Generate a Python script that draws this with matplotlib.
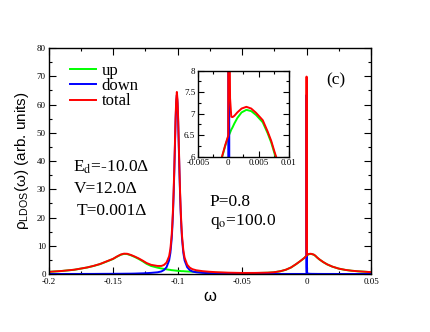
import matplotlib
matplotlib.use("Agg")
import matplotlib.pyplot as plt
from matplotlib.ticker import MultipleLocator, FixedLocator, FixedFormatter

plt.rcParams['mathtext.fontset'] = 'custom'
plt.rcParams['mathtext.rm'] = 'Liberation Sans'
plt.rcParams['mathtext.it'] = 'Liberation Sans:italic'

# values
omega = [-0.2, -0.19, -0.18, -0.175, -0.17, -0.165, -0.16, -0.155, -0.15, -0.147,
         -0.144, -0.1415, -0.139, -0.136, -0.133, -0.13, -0.127, -0.124, -0.1205, -0.118,
         -0.1155, -0.1125, -0.1105, -0.1085, -0.1065, -0.1055, -0.1045, -0.104, -0.1035, -0.103,
         -0.1025, -0.102, -0.1015, -0.101, -0.1005, -0.1, -0.0995, -0.099, -0.0985, -0.098,
         -0.0975, -0.097, -0.0965, -0.0955, -0.0945, -0.0925, -0.0905, -0.0885, -0.0855, -0.0805,
         -0.0755, -0.0705, -0.0605, -0.05, -0.04, -0.03, -0.025, -0.02, -0.016, -0.012,
         -0.008, -0.005, -0.003, -0.0015, -0.001, -0.0005, 0.0, 0.00005, 0.0001, 0.00015,
         0.0002, 0.0003, 0.0005, 0.0007, 0.001, 0.0015, 0.0022, 0.003, 0.0038, 0.0046,
         0.0057, 0.0065, 0.0071, 0.0077, 0.0085, 0.01, 0.013, 0.016, 0.02, 0.025,
         0.03, 0.035, 0.04, 0.05]
rho_up = [0.75, 1.05, 1.5, 1.9, 2.3, 2.85, 3.5, 4.4, 5.3, 6.1,
          6.8, 7.1, 7.05, 6.6, 6.0, 5.3, 4.5, 3.6, 2.85, 2.55,
          2.25, 1.95, 1.8, 1.65, 1.5, 1.45, 1.35, 1.35, 1.3, 1.3,
          1.25, 1.25, 1.2, 1.2, 1.15, 1.15, 1.1, 1.1, 1.1, 1.05,
          1.05, 1.0, 1.0, 1.0, 0.95, 0.9, 0.85, 0.82, 0.72, 0.6,
          0.52, 0.45, 0.35, 0.3, 0.33, 0.45, 0.6, 1.0, 1.5, 2.3,
          3.5, 4.5, 5.2, 5.75, 6.0, 6.25, 6.47, 6.48, 6.5, 6.51,
          6.53, 6.56, 6.63, 6.68, 6.77, 6.9, 7.03, 7.09, 7.06, 6.97,
          6.8, 6.55, 6.33, 6.05, 5.72, 5.15, 4.2, 3.4, 2.6, 1.9,
          1.45, 1.15, 0.95, 0.65]
rho_down = [0.01, 0.01, 0.02, 0.02, 0.03, 0.03, 0.05, 0.06, 0.07, 0.08,
            0.09, 0.1, 0.11, 0.12, 0.15, 0.2, 0.24, 0.3, 0.4, 0.5,
            0.6, 0.9, 1.4, 2.4, 4.8, 7.5, 12.5, 16.5, 21.5, 28.0,
            36.0, 45.0, 54.0, 60.5, 63.3, 60.5, 54.0, 45.0, 36.0, 28.0,
            21.5, 16.5, 12.5, 7.5, 4.8, 2.4, 1.4, 0.9, 0.6, 0.4,
            0.28, 0.2, 0.12, 0.07, 0.05, 0.03, 0.03, 0.02, 0.02, 0.02,
            0.02, 0.02, 0.02, 0.02, 0.02, 0.02, 0.02, 63.4, 30.0, 8.0,
            2.5, 0.8, 0.3, 0.24, 0.18, 0.13, 0.09, 0.07, 0.06, 0.05,
            0.05, 0.04, 0.04, 0.04, 0.03, 0.03, 0.02, 0.02, 0.02, 0.01,
            0.01, 0.01, 0.01, 0.01]
rho_total = [0.76, 1.06, 1.52, 1.92, 2.33, 2.88, 3.55, 4.46, 5.37, 6.18,
             6.89, 7.2, 7.16, 6.72, 6.15, 5.5, 4.74, 3.9, 3.25, 3.05,
             2.85, 2.85, 3.2, 4.05, 6.3, 8.95, 13.85, 17.85, 22.8, 29.3,
             37.25, 46.25, 55.2, 61.7, 64.45, 61.65, 55.1, 46.1, 37.1, 29.05,
             22.55, 17.5, 13.5, 8.5, 5.75, 3.3, 2.25, 1.72, 1.32, 1.0,
             0.8, 0.65, 0.47, 0.37, 0.38, 0.48, 0.63, 1.02, 1.52, 2.32,
             3.52, 4.52, 5.22, 5.77, 6.02, 6.27, 6.49, 69.88, 36.5, 14.51,
             9.03, 7.36, 6.93, 6.92, 6.95, 7.03, 7.12, 7.16, 7.12, 7.02,
             6.85, 6.59, 6.37, 6.09, 5.75, 5.18, 4.22, 3.42, 2.62, 1.91,
             1.46, 1.16, 0.96, 0.66]

xticks = [-0.2, -0.15, -0.1, -0.05, 0.0, 0.05]
xticklabels = ['-0.2', '-0.15', '-0.1', '-0.05', '0', '0.05']
yticks = [0, 10, 20, 30, 40, 50, 60, 70, 80]
yticklabels = ['0', '10', '20', '30', '40', '50', '60', '70', '80']
in_xticks = [-0.005, 0.0, 0.005, 0.01]
in_xticklabels = ['-0.005', '0', '0.005', '0.01']
in_yticks = [6, 6.5, 7, 7.5, 8]
in_yticklabels = ['6', '6.5', '7', '7.5', '8']

serif = 'Liberation Serif'
sans = 'Liberation Sans'
c_up, c_down, c_tot = '#00ff00', '#0000ff', '#ff0000'

fig = plt.figure(figsize=(4.3, 3.32), dpi=100)
ax = fig.add_axes([0.1128, 0.1747, 0.75, 0.6807])

l1, = ax.plot(omega, rho_up, color=c_up, lw=1.4, label='up')
l2, = ax.plot(omega, rho_down, color=c_down, lw=1.4, label='down')
l3, = ax.plot(omega, rho_total, color=c_tot, lw=1.4, label='total')

ax.set_xlim(-0.2, 0.05)
ax.set_ylim(0, 80)
ax.xaxis.set_major_locator(FixedLocator(xticks))
ax.xaxis.set_major_formatter(FixedFormatter(xticklabels))
ax.xaxis.set_minor_locator(MultipleLocator(0.025))
ax.yaxis.set_major_locator(FixedLocator(yticks))
ax.yaxis.set_major_formatter(FixedFormatter(yticklabels))
ax.yaxis.set_minor_locator(MultipleLocator(5))
ax.tick_params(which='both', direction='in', top=True, right=True, width=0.8)
ax.tick_params(which='major', length=5, labelsize=6.5)
ax.tick_params(axis='x', which='major', pad=3)
ax.tick_params(axis='y', which='major', pad=2)
ax.tick_params(which='minor', length=2.5)
for t in ax.get_xticklabels() + ax.get_yticklabels():
    t.set_fontfamily(serif)
for s in ax.spines.values():
    s.set_linewidth(1.0)

ax.set_xlabel('ω', fontsize=12, fontfamily=sans, labelpad=2)
ax.set_ylabel(r'ρ$_{\rm LDOS}$(ω) (arb. units)', fontsize=11, fontfamily=sans, labelpad=4)

leg = ax.legend(handles=[l1, l2, l3], loc='upper left', bbox_to_anchor=(0.031, 0.985),
                frameon=False, prop={'family': serif, 'size': 12},
                handlelength=1.55, handletextpad=0.35, labelspacing=-0.05, borderpad=0.2)

kw = dict(transform=ax.transAxes, fontfamily=serif, fontsize=12.5, math_fontfamily='stix')
ax.text(0.076, 0.455, r'E$_{\rm d}$=-10.0Δ', **kw)
ax.text(0.079, 0.36, 'V=12.0Δ', **kw)
ax.text(0.087, 0.263, 'T=0.001Δ', **kw)
ax.text(0.498, 0.3, 'P=0.8', **kw)
ax.text(0.501, 0.216, r'q$_{\rm o}$=100.0', **kw)
ax.text(0.862, 0.838, '(c)', **kw)

# inset
axi = fig.add_axes([0.4605, 0.528, 0.211, 0.259])
axi.plot(omega, rho_up, color=c_up, lw=1.4)
axi.plot(omega, rho_down, color=c_down, lw=1.4)
axi.plot(omega, rho_total, color=c_tot, lw=1.4)
axi.set_xlim(-0.005, 0.01)
axi.set_ylim(6, 8)
axi.xaxis.set_major_locator(FixedLocator(in_xticks))
axi.xaxis.set_major_formatter(FixedFormatter(in_xticklabels))
axi.xaxis.set_minor_locator(MultipleLocator(0.0025))
axi.yaxis.set_major_locator(FixedLocator(in_yticks))
axi.yaxis.set_major_formatter(FixedFormatter(in_yticklabels))
axi.yaxis.set_minor_locator(MultipleLocator(0.25))
axi.tick_params(which='both', direction='in', top=True, right=True, width=0.8)
axi.tick_params(which='major', length=4, labelsize=6.5, pad=2)
axi.tick_params(which='minor', length=2)
for t in axi.get_xticklabels() + axi.get_yticklabels():
    t.set_fontfamily(serif)
for s in axi.spines.values():
    s.set_linewidth(1.0)

fig.savefig('out.png', dpi=100)
plt.close(fig)
